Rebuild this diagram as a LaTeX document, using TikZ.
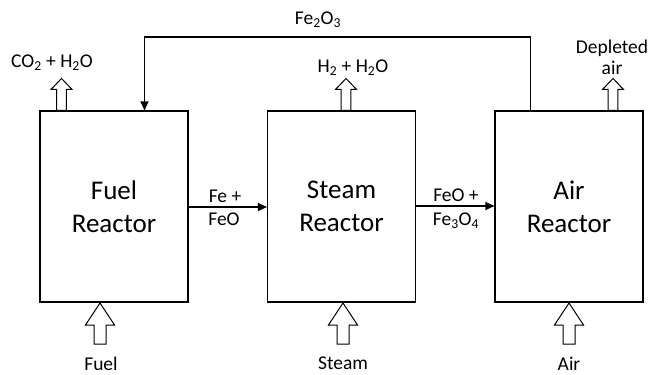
\documentclass[tikz,border=0pt]{standalone}
\usepackage{fontspec}
\setmainfont{Carlito}
\usetikzlibrary{arrows.meta}
\tikzset{
  reactor/.style={draw, line width=1.1pt, minimum width=148pt, minimum height=191pt, inner sep=0pt,
    align=center, font=\fontsize{27}{33}\selectfont},
  lbl/.style={font=\fontsize{19.5}{21}\selectfont, inner sep=0pt, align=center},
  flow/.style={line width=1.1pt, -{Triangle[length=9pt,width=8pt]}},
  smallup/.pic={\draw[line width=1pt, fill=white] (-4.8,0) -- (-4.8,-21) -- (-10.5,-21) -- (0,-32) -- (10.5,-21) -- (4.8,-21) -- (4.8,0) -- cycle;},
  bigup/.pic={\draw[line width=1pt, fill=white] (-6,0) -- (-6,-19) -- (-14.5,-19) -- (0,-41) -- (14.5,-19) -- (6,-19) -- (6,0) -- cycle;}
}
\begin{document}
\begin{tikzpicture}[x=1pt,y=-1pt]
\useasboundingbox (0,0) rectangle (651,375);
\node[reactor] (fuel) at (114,206.5) {Fuel\\Reactor};
\node[reactor] (steam) at (341.5,206.5) {Steam\\Reactor};
\node[reactor] (air) at (569,206.5) {Air\\Reactor};
% horizontal flows
\draw[flow] (fuel.east |- 0,207) -- (steam.west |- 0,207);
\draw[flow] (steam.east |- 0,206) -- (air.west |- 0,206);
\node[lbl] (l1) at (225,196) {Fe +};
\node[lbl] (l2) at (224,219) {FeO};
\node[lbl] (l3) at (456,195) {FeO +};
\node[lbl] (l4) at (456,221) {Fe\textsubscript{3}O\textsubscript{4}};
% recycle line
\coordinate (r1) at (530.5,37);
\coordinate (r2) at (144.5,37);
\draw[flow] (air.north -| r1) -- (r1) -- (r2) -- (fuel.north -| r2);
\node[lbl] (fe2o3) at (318,20) {Fe\textsubscript{2}O\textsubscript{3}};
% top outlets
\pic at (fuel.north -| 61.5,0) {smallup};
\pic at (steam.north -| 346,0) {smallup};
\pic at (air.north -| 613,0) {smallup};
\node[lbl] (co2) at (52,63) {CO\textsubscript{2} + H\textsubscript{2}O};
\node[lbl] (h2) at (353,68) {H\textsubscript{2} + H\textsubscript{2}O};
\node[lbl] (dep) at (612,57.5) {Depleted\\air};
% bottom inlets
\pic at (100,344) {bigup};
\pic at (343,344) {bigup};
\pic at (569,344) {bigup};
\node[lbl] (fuelin) at (101,363.5) {Fuel};
\node[lbl] (steamin) at (343,363.5) {Steam};
\node[lbl] (airin) at (569,363.5) {Air};
\end{tikzpicture}
\end{document}
